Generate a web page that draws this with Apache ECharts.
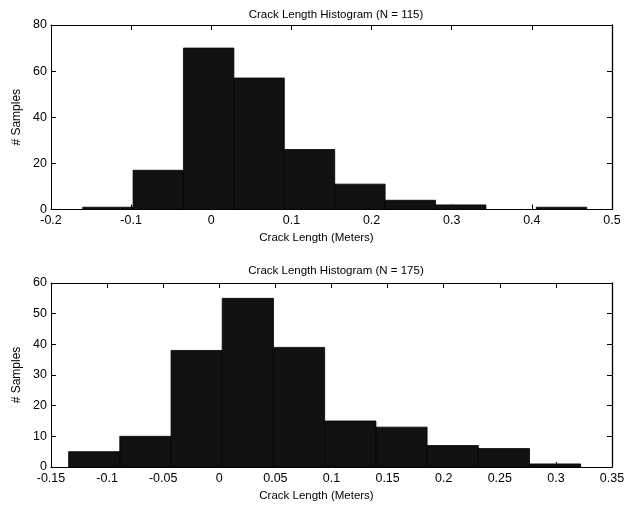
<!DOCTYPE html>
<html>
<head>
<meta charset="utf-8">
<script src="https://cdn.jsdelivr.net/npm/echarts@6/dist/echarts.min.js"></script>
<style>html,body{margin:0;padding:0;background:#fff;}#c{width:631px;height:506px;}</style>
</head>
<body>
<div id="c"></div>
<script>
// Top histogram (N = 115)
var edges1 = [-0.1605, -0.0976, -0.0347, 0.0282, 0.0911, 0.1540, 0.2169, 0.2798, 0.3427, 0.4056, 0.4685];
var counts1 = [1, 17, 70, 57, 26, 11, 4, 2, 0, 1];
// Bottom histogram (N = 175)
var edges2 = [-0.1343, -0.0887, -0.0430, 0.0026, 0.0483, 0.0939, 0.1396, 0.1852, 0.2309, 0.2765, 0.3221];
var counts2 = [5, 10, 38, 55, 39, 15, 13, 7, 6, 1];

var title1 = 'Crack Length Histogram (N = 115)';
var title2 = 'Crack Length Histogram (N = 175)';
var xName = 'Crack Length (Meters)';
var yName = '# Samples';

function binData(edges, counts) {
  var d = [];
  for (var i = 0; i < counts.length; i++) d.push([edges[i], edges[i + 1], counts[i]]);
  return d;
}

var FONT = 'Liberation Sans, Arial, Helvetica, sans-serif';
var labelStyle = {color: '#000', fontSize: 12.5, fontFamily: FONT};
function fmt(v) { return String(parseFloat(Number(v).toFixed(3))); }

function xAxes(gi, min, max, interval, gap) {
  return [{
    type: 'value', gridIndex: gi, position: 'bottom', min: min, max: max, interval: interval,
    name: xName, nameLocation: 'middle', nameGap: gap,
    nameTextStyle: {color: '#000', fontSize: 11.5, fontFamily: FONT, padding: [0, 30, 0, 0]},
    axisLine: {show: true, onZero: false, lineStyle: {color: '#000', width: 1}},
    axisTick: {show: true, inside: true, length: 5, lineStyle: {color: '#000'}},
    axisLabel: Object.assign({margin: 5, formatter: fmt, showMinLabel: true, showMaxLabel: true}, labelStyle),
    splitLine: {show: false}
  }, {
    type: 'value', gridIndex: gi, position: 'top', min: min, max: max, interval: interval,
    axisLine: {show: true, onZero: false, lineStyle: {color: '#000', width: 1}},
    axisTick: {show: true, inside: true, length: 5, lineStyle: {color: '#000'}},
    axisLabel: {show: false}, splitLine: {show: false}
  }];
}
function yAxes(gi, min, max, interval) {
  return [{
    type: 'value', gridIndex: gi, position: 'left', min: min, max: max, interval: interval,
    name: yName, nameLocation: 'middle', nameGap: 25,
    nameTextStyle: {color: '#000', fontSize: 12, fontFamily: FONT},
    axisLine: {show: true, onZero: false, lineStyle: {color: '#000', width: 1}},
    axisTick: {show: true, inside: true, length: 5, lineStyle: {color: '#000'}},
    axisLabel: Object.assign({margin: 4}, labelStyle),
    splitLine: {show: false}
  }, {
    type: 'value', gridIndex: gi, position: 'right', min: min, max: max, interval: interval,
    axisLine: {show: true, onZero: false, lineStyle: {color: '#000', width: 1.3}},
    axisTick: {show: true, inside: true, length: 5, lineStyle: {color: '#000'}},
    axisLabel: {show: false}, splitLine: {show: false}
  }];
}

function renderBin(params, api) {
  var x0 = api.value(0), x1 = api.value(1), h = api.value(2);
  var p0 = api.coord([x0, h]);
  var p1 = api.coord([x1, 0]);
  return {
    type: 'rect',
    shape: {x: p0[0], y: p0[1], width: p1[0] - p0[0], height: p1[1] - p0[1]},
    style: {fill: '#111111', stroke: '#000000', lineWidth: 0.8}
  };
}

var chart = echarts.init(document.getElementById('c'), null, {renderer: 'canvas'});
chart.setOption({
  animation: false,
  backgroundColor: '#fff',
  title: [
    {text: title1, left: 331, textAlign: 'center', top: 4, textStyle: {color: '#000', fontSize: 11.5, fontWeight: 'normal', fontFamily: FONT}},
    {text: title2, left: 331, textAlign: 'center', top: 260, textStyle: {color: '#000', fontSize: 11.5, fontWeight: 'normal', fontFamily: FONT}}
  ],
  grid: [
    {left: 51, top: 25, width: 561, height: 184.5, containLabel: false},
    {left: 51, top: 283, width: 561, height: 184, containLabel: false}
  ],
  xAxis: xAxes(0, -0.2, 0.5, 0.1, 22).concat(xAxes(1, -0.15, 0.35, 0.05, 23)),
  yAxis: yAxes(0, 0, 80, 20).concat(yAxes(1, 0, 60, 10)),
  series: [
    {type: 'custom', xAxisIndex: 0, yAxisIndex: 0, renderItem: renderBin, data: binData(edges1, counts1), encode: {x: [0, 1], y: 2}},
    {type: 'custom', xAxisIndex: 2, yAxisIndex: 2, renderItem: renderBin, data: binData(edges2, counts2), encode: {x: [0, 1], y: 2}}
  ]
});
</script>
</body>
</html>
